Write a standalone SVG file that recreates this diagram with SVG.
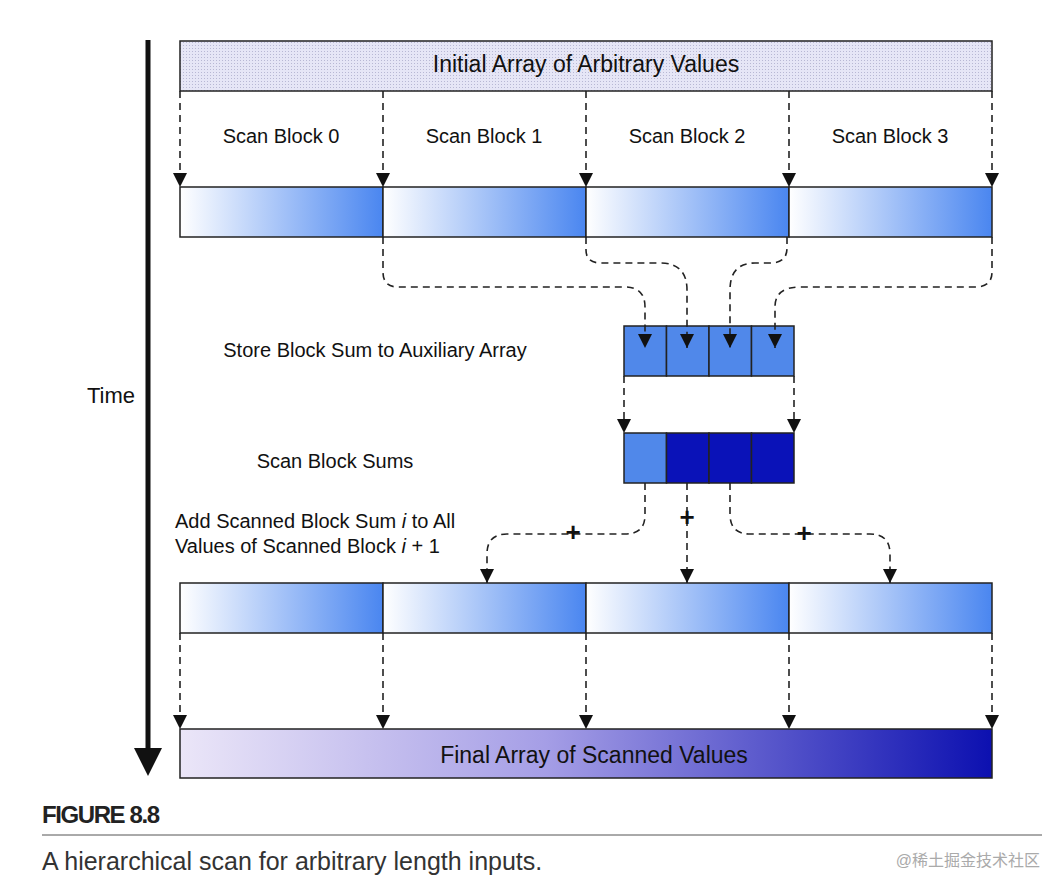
<svg xmlns="http://www.w3.org/2000/svg" width="1064" height="894" viewBox="0 0 1064 894">
<defs>
<linearGradient id="blk" x1="0" x2="1" y1="0" y2="0"><stop offset="0" stop-color="#ffffff"/><stop offset="1" stop-color="#4a86f0"/></linearGradient>
<linearGradient id="fin" x1="0" x2="1" y1="0" y2="0"><stop offset="0" stop-color="#ebe6f8"/><stop offset="0.45" stop-color="#a59ee6"/><stop offset="1" stop-color="#0c10b0"/></linearGradient>
<pattern id="dots" width="3" height="3" patternUnits="userSpaceOnUse"><rect width="3" height="3" fill="#e6e6f6"/><rect width="1" height="1" fill="#b8b8d4"/></pattern>
<marker id="ah" viewBox="0 0 10 10" refX="10" refY="5" markerWidth="14" markerHeight="14" markerUnits="userSpaceOnUse" orient="auto"><path d="M0,0 L10,5 L0,10 z" fill="#111"/></marker>
<style>
.t{font-family:"Liberation Sans",Arial,sans-serif;font-size:20px;fill:#111}
.big{font-size:23px}
.plus{font-size:26px;font-weight:bold}
.d{fill:none;stroke:#222;stroke-width:1.6;stroke-dasharray:7,5;marker-end:url(#ah)}
.b{stroke:#222;stroke-width:1.5}
</style>
</defs>
<rect width="1064" height="894" fill="#fff"/>
<g id="time">
<line x1="148" y1="40" x2="148" y2="752" stroke="#111" stroke-width="5"/>
<path d="M134,748 L162,748 L148,776 z" fill="#111"/>
<text class="t" x="111" y="403" text-anchor="middle" style="font-size:22px">Time</text>
</g>
<g id="initial">
<rect x="180" y="41" width="812" height="50" fill="url(#dots)" class="b"/>
<text class="t big" x="586" y="72" text-anchor="middle">Initial Array of Arbitrary Values</text>
</g>
<g id="labels">
<text class="t" x="281" y="143" text-anchor="middle">Scan Block 0</text>
<text class="t" x="484" y="143" text-anchor="middle">Scan Block 1</text>
<text class="t" x="687" y="143" text-anchor="middle">Scan Block 2</text>
<text class="t" x="890" y="143" text-anchor="middle">Scan Block 3</text>
<text class="t" x="375" y="357" text-anchor="middle">Store Block Sum to Auxiliary Array</text>
<text class="t" x="335" y="468" text-anchor="middle">Scan Block Sums</text>
<text class="t" x="175" y="528">Add Scanned Block Sum <tspan font-style="italic">i</tspan> to All</text>
<text class="t" x="175" y="553">Values of Scanned Block <tspan font-style="italic">i</tspan> + 1</text>
</g>
<g id="row1">
<rect x="180" y="187" width="203" height="50" fill="url(#blk)" class="b"/>
<rect x="383" y="187" width="203" height="50" fill="url(#blk)" class="b"/>
<rect x="586" y="187" width="203" height="50" fill="url(#blk)" class="b"/>
<rect x="789" y="187" width="203" height="50" fill="url(#blk)" class="b"/>
</g>
<g id="aux">
<rect x="624" y="326" width="42.5" height="50" fill="#5088ea" class="b"/>
<rect x="666.5" y="326" width="42.5" height="50" fill="#5088ea" class="b"/>
<rect x="709" y="326" width="42.5" height="50" fill="#5088ea" class="b"/>
<rect x="751.5" y="326" width="42.5" height="50" fill="#5088ea" class="b"/>
</g>
<g id="sums">
<rect x="624" y="433" width="42.5" height="50" fill="#5088ea" class="b"/>
<rect x="666.5" y="433" width="42.5" height="50" fill="#0a12b8" class="b"/>
<rect x="709" y="433" width="42.5" height="50" fill="#0a12b8" class="b"/>
<rect x="751.5" y="433" width="42.5" height="50" fill="#0a12b8" class="b"/>
</g>
<g id="row3">
<rect x="180" y="583" width="203" height="50" fill="url(#blk)" class="b"/>
<rect x="383" y="583" width="203" height="50" fill="url(#blk)" class="b"/>
<rect x="586" y="583" width="203" height="50" fill="url(#blk)" class="b"/>
<rect x="789" y="583" width="203" height="50" fill="url(#blk)" class="b"/>
</g>
<g id="final">
<rect x="180" y="729" width="812" height="49" fill="url(#fin)" class="b"/>
<text class="t big" x="594" y="763" text-anchor="middle">Final Array of Scanned Values</text>
</g>
<g id="connectors">
<path class="d" d="M180,91 V187"/><path class="d" d="M383,91 V187"/><path class="d" d="M586,91 V187"/><path class="d" d="M789,91 V187"/><path class="d" d="M992,91 V187"/>
<path class="d" d="M383,237 V272 Q383,287 398,287 H625 Q645,287 645,307 V348"/>
<path class="d" d="M586,237 V250 Q586,263 601,263 H660 Q687,263 687,290 V348"/>
<path class="d" d="M787,237 V248 Q787,263 770,263 H755 Q730,263 730,290 V348"/>
<path class="d" d="M992,237 V272 Q992,287 975,287 H800 Q775,287 775,307 V348"/>
<path class="d" d="M624,376 V433"/><path class="d" d="M794,376 V433"/>
<path class="d" d="M645,483 V515 Q645,534 625,534 H507 Q487,534 487,554 V583"/>
<path class="d" d="M687,483 V583"/>
<path class="d" d="M730,483 V514 Q730,534 750,534 H870 Q890,534 890,554 V583"/>
<path class="d" d="M180,633 V729"/><path class="d" d="M383,633 V729"/><path class="d" d="M586,633 V729"/><path class="d" d="M789,633 V729"/><path class="d" d="M992,633 V729"/>
<text class="t plus" x="573" y="541" text-anchor="middle">+</text>
<text class="t plus" x="687" y="526" text-anchor="middle">+</text>
<text class="t plus" x="804" y="542" text-anchor="middle">+</text>
</g>
<g id="caption">
<text x="42" y="823" font-family="'Liberation Sans',Arial,sans-serif" font-weight="bold" font-size="24" fill="#222" textLength="118" lengthAdjust="spacing">FIGURE 8.8</text>
<line x1="42" y1="835" x2="1042" y2="835" stroke="#555" stroke-width="1"/>
<text x="42" y="870" font-family="'Liberation Sans',Arial,sans-serif" font-size="25" fill="#333">A hierarchical scan for arbitrary length inputs.</text>
<text x="1040" y="866" text-anchor="end" font-family="'Liberation Sans','Noto Sans CJK SC',sans-serif" font-size="16" fill="#aaa">@稀土掘金技术社区</text>
</g>
</svg>
